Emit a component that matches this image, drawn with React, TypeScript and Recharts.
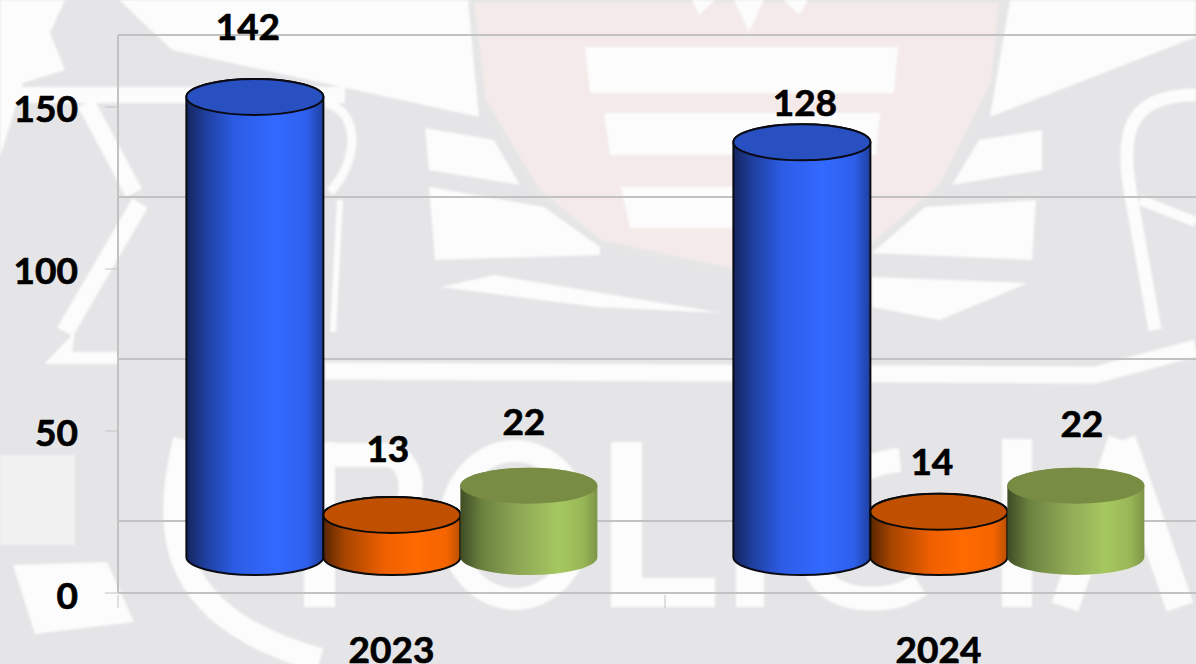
import { Bar, CartesianGrid, ComposedChart, LabelList, Line, XAxis, YAxis } from "recharts";

const years = ["2023", "2024"];
const blueValues = [142, 128];
const orangeValues = [13, 14];
const greenValues = [22, 22];
const yTicks = [0, 50, 100, 150];

// Labels sit by hand in the original, so each one gets its own nudge [dx, dy]
const blueNudge = [[-7, -71], [3, -41]];
const orangeNudge = [[-4, -67], [-7, -51]];
const greenNudge = [[-5, -65], [6, -63]];

const chartData = years.map((year, i) => ({
  year,
  blue: blueValues[i],
  orange: orangeValues[i],
  green: greenValues[i],
}));

const FONT = "Lato, sans-serif";
const GRID = "#c2c2c2";
const PAPER = "#fcfcfc";
const HALF_BAND = 273.5;
const RY = 18;

const heavyText = {
  fontFamily: FONT,
  fontWeight: 700,
  fontSize: 37,
  fill: "#000",
  stroke: "#000",
  strokeWidth: 0.7,
};

function cylinder(gradient: string, top: string, outline: string) {
  return function Cylinder(props: any) {
    const { x, y, width, height } = props;
    const rx = width / 2;
    const body = `M${x},${y} L${x},${y + height} A${rx},${RY} 0 0 0 ${x + width},${y + height} L${x + width},${y} A${rx},${RY} 0 0 0 ${x},${y} Z`;
    return (
      <g>
        <path d={body} fill={`url(#${gradient})`} stroke={outline} strokeWidth={2} />
        <ellipse cx={x + rx} cy={y} rx={rx} ry={RY} fill={top} stroke={outline} strokeWidth={2} />
      </g>
    );
  };
}

function valueLabel(nudge: number[][]) {
  return function ValueLabel(props: any) {
    const { x, y, width, value, index } = props;
    const [dx, dy] = nudge[index];
    return (
      <text x={x + width / 2 + dx} y={y + dy} textAnchor="middle" dominantBaseline="central" {...heavyText}>
        {value}
      </text>
    );
  };
}

function YearTick(props: any) {
  const { x, y, payload } = props;
  return (
    <g>
      <line x1={x - HALF_BAND} x2={x - HALF_BAND} y1={y} y2={y + 13} stroke={GRID} strokeWidth={1} />
      <text x={x} y={y + 53} textAnchor="middle" dominantBaseline="central" {...heavyText}>
        {payload.value}
      </text>
    </g>
  );
}

function ValueTick(props: any) {
  const { x, y, payload } = props;
  return (
    <text x={x} y={y + 1} textAnchor="end" dominantBaseline="central" {...heavyText}>
      {payload.value}
    </text>
  );
}

function Watermark() {
  return (
    <svg width={1196} height={664} style={{ position: "absolute", left: 0, top: 0 }}>
      <defs>
        <filter id="soft" x="-5%" y="-5%" width="110%" height="110%">
          <feGaussianBlur stdDeviation="1.2" />
        </filter>
      </defs>
      <rect width={1196} height={664} fill="#e5e5e7" />
      <g filter="url(#soft)">
        <polygon points="471,0 483,100 536,190 600,243 735,272 872,247 941,187 994,83 1002,0" fill="#f4eaea" stroke="#e6e6e6" strokeWidth={6} />
        <g fill={PAPER}>
          <polygon points="119,0 172,50 479,117 468,0" />
          <polygon points="0,0 65,0 50,33 65,70 23,83 0,157" />
          <polygon points="1010,0 1196,0 1196,37 990,117" />
          <rect x={0} y={87} width={345} height={16} />
          <polygon points="692,0 715,0 699,15" />
          <polygon points="734,0 764,0 749,32" />
          <polygon points="784,0 808,0 799,15" />
          <polygon points="585,47 898,47 894,93 590,93" />
          <polygon points="604,113 880,113 876,155 610,155" />
          <polygon points="621,187 850,187 840,228 630,228" />
          <polygon points="425,128 494,140 520,185 429,170" />
          <polygon points="429,187 544,207 600,247 600,255 435,260" />
          <polygon points="441,287 494,275 722,313 596,307" />
          <polygon points="1042,130 1042,170 952,185 979,140" />
          <polygon points="1036,200 1032,260 872,253 925,207" />
          <polygon points="872,277 1028,283 940,320 872,307" />
          <polygon points="46,362 75,332 72,352 118,352 118,364 46,364" />
          <polygon points="13,565 107,562 134,622 35,634" />
          <polygon points="611,442 642,442 642,578 715,578 715,607 611,607" />
          <rect x={304} y={442} width={31} height={165} />
          <rect x={736} y={442} width={28} height={165} />
          <rect x={1002} y={439} width={30} height={168} />
        </g>
        <rect x={0} y={455} width={75} height={90} fill="#f1f1f2" />
        <g fill="none" stroke={PAPER}>
          <path d="M325,371 L1095,375 L1196,348" strokeWidth={17} />
          <path d="M86,103 L134,193" strokeWidth={18} />
          <path d="M140,203 L65,332" strokeWidth={18} />
          <path d="M325,103 C360,110 360,160 330,192" strokeWidth={9} />
          <path d="M340,200 L333,332" strokeWidth={6} />
          <path d="M1196,95 C1130,95 1120,130 1130,190 L1155,330" strokeWidth={13} />
          <path d="M1140,200 L1196,222" strokeWidth={10} />
          <path d="M185,440 C160,540 175,620 320,660" strokeWidth={24} />
          <path d="M320,455 L385,455 C420,455 420,520 380,530" strokeWidth={24} />
          <ellipse cx={515} cy={525} rx={65} ry={74} strokeWidth={22} />
          <path d="M900,460 C800,470 780,590 860,598 C890,600 905,595 920,585" strokeWidth={24} />
          <path d="M1122,440 L1065,607" strokeWidth={28} />
          <path d="M1122,440 L1180,607" strokeWidth={28} />
        </g>
      </g>
    </svg>
  );
}

export default function App() {
  return (
    <div style={{ position: "absolute", left: 0, top: 0, width: 1196, height: 664, overflow: "hidden" }}>
      <Watermark />
      <div style={{ position: "absolute", left: 0, top: 0 }}>
        <ComposedChart
          width={1230}
          height={664}
          data={chartData}
          margin={{ top: 35, right: 18, left: 0, bottom: 0 }}
          barCategoryGap="12.5%"
          barGap={0}
        >
          <defs>
            <linearGradient id="blueSide" x1="0" x2="1" y1="0" y2="0">
              <stop offset="0" stopColor="#14265f" />
              <stop offset="0.14" stopColor="#1f3f9e" />
              <stop offset="0.35" stopColor="#2c5ce4" />
              <stop offset="0.65" stopColor="#3369ff" />
              <stop offset="0.88" stopColor="#2e60ec" />
              <stop offset="1" stopColor="#1f3f9e" />
            </linearGradient>
            <linearGradient id="orangeSide" x1="0" x2="1" y1="0" y2="0">
              <stop offset="0" stopColor="#5a2500" />
              <stop offset="0.16" stopColor="#a84600" />
              <stop offset="0.45" stopColor="#f06000" />
              <stop offset="0.68" stopColor="#ff6a00" />
              <stop offset="0.9" stopColor="#f46400" />
              <stop offset="1" stopColor="#b85000" />
            </linearGradient>
            <linearGradient id="greenSide" x1="0" x2="1" y1="0" y2="0">
              <stop offset="0" stopColor="#3f4c24" />
              <stop offset="0.16" stopColor="#6b8240" />
              <stop offset="0.45" stopColor="#90aa56" />
              <stop offset="0.72" stopColor="#a6c860" />
              <stop offset="0.9" stopColor="#98b656" />
              <stop offset="1" stopColor="#7c9447" />
            </linearGradient>
          </defs>
          {/* back wall is shifted up from the front scale, bars stand in between */}
          <YAxis yAxisId="back" hide width={0} domain={[-22.22, 150]} ticks={yTicks} />
          <YAxis yAxisId="bars" hide width={0} domain={[-11.11, 161.11]} />
          <CartesianGrid yAxisId="back" vertical={false} stroke={GRID} strokeWidth={2} />
          <XAxis
            dataKey="year"
            height={71}
            axisLine={{ stroke: GRID, strokeWidth: 2 }}
            tickLine={false}
            tickSize={0}
            tick={<YearTick />}
            interval={0}
          />
          <YAxis
            yAxisId="front"
            width={118}
            domain={[0, 172.22]}
            ticks={yTicks}
            interval={0}
            axisLine={{ stroke: GRID, strokeWidth: 2 }}
            tickLine={{ stroke: GRID, strokeWidth: 1 }}
            tickSize={13}
            tickMargin={27}
            tick={<ValueTick />}
          />
          {/* invisible lines so the two scale-only axes get ticks */}
          <Line yAxisId="back" dataKey="blue" stroke="none" dot={false} activeDot={false} isAnimationActive={false} />
          <Line yAxisId="front" dataKey="blue" stroke="none" dot={false} activeDot={false} isAnimationActive={false} />
          <Bar yAxisId="bars" dataKey="blue" isAnimationActive={false} shape={cylinder("blueSide", "#2850c0", "#0a0a14")}>
            <LabelList dataKey="blue" content={valueLabel(blueNudge)} />
          </Bar>
          <Bar yAxisId="bars" dataKey="orange" isAnimationActive={false} shape={cylinder("orangeSide", "#c05000", "#0a0a0a")}>
            <LabelList dataKey="orange" content={valueLabel(orangeNudge)} />
          </Bar>
          <Bar yAxisId="bars" dataKey="green" isAnimationActive={false} shape={cylinder("greenSide", "#788c44", "none")}>
            <LabelList dataKey="green" content={valueLabel(greenNudge)} />
          </Bar>
        </ComposedChart>
      </div>
    </div>
  );
}
